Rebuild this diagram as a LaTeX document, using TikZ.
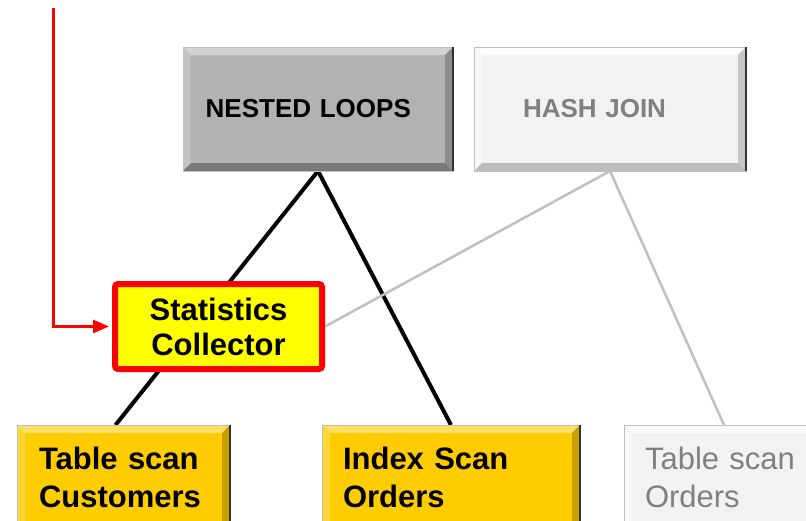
\documentclass[tikz,border=0pt]{standalone}
\usepackage{fontspec}
\setmainfont{Liberation Sans}
\usetikzlibrary{arrows.meta,calc,backgrounds}
\definecolor{nlfill}{HTML}{B2B2B2}
\definecolor{nltop}{HTML}{D2D2D2}
\definecolor{nlleft}{HTML}{C2C2C2}
\definecolor{nlright}{HTML}{8C8C8C}
\definecolor{nlbot}{HTML}{7A7A7A}
\definecolor{ltfill}{HTML}{F2F2F2}
\definecolor{lttop}{HTML}{FBFBFB}
\definecolor{ltleft}{HTML}{F7F7F7}
\definecolor{ltright}{HTML}{C6C6C6}
\definecolor{ltbot}{HTML}{BDBDBD}
\definecolor{gdfill}{HTML}{FFCC00}
\definecolor{gdtop}{HTML}{FFE066}
\definecolor{gdleft}{HTML}{FFD633}
\definecolor{gdright}{HTML}{C99F00}
\definecolor{gdbot}{HTML}{B08C00}
\definecolor{graytext}{HTML}{808080}
\definecolor{grayline}{HTML}{C0C0C0}
\definecolor{redc}{HTML}{FF0000}
\definecolor{yel}{HTML}{FFFF00}
\newcommand\mybevel[6]{%
  \fill[#2] (#1.north west) -- (#1.north east) -- ($(#1.north east)+(-#6,#6)$) -- ($(#1.north west)+(#6,#6)$) -- cycle;
  \fill[#3] (#1.north west) -- ($(#1.north west)+(#6,#6)$) -- ($(#1.south west)+(#6,-#6)$) -- (#1.south west) -- cycle;
  \fill[#4] (#1.north east) -- ($(#1.north east)+(-#6,#6)$) -- ($(#1.south east)+(-#6,-#6)$) -- (#1.south east) -- cycle;
  \fill[#5] (#1.south west) -- ($(#1.south west)+(#6,-#6)$) -- ($(#1.south east)+(-#6,-#6)$) -- (#1.south east) -- cycle;
  \draw[line width=0.8pt, black!25] (#1.north west) rectangle (#1.south east);
  \draw[line width=1.6pt, black!80] (#1.north east) -- (#1.south east);
}
\begin{document}
\begin{tikzpicture}[x=1pt,y=-1pt,
  box/.style={rectangle, outer sep=0pt, inner ysep=0pt, align=left},
  topbox/.style={box, minimum height=124pt, font=\bfseries\fontsize{26}{30}\selectfont},
  botbox/.style={box, minimum height=104pt, inner xsep=22pt, fill=gdfill, font=\bfseries\fontsize{31}{38}\selectfont},
  conn/.style={line width=4pt, black},
  grayconn/.style={line width=2.5pt, grayline}]
\useasboundingbox (0,0) rectangle (806,520);
\clip (0,0) rectangle (806,520);

\node[topbox, fill=nlfill, text width=224.6pt, inner xsep=22.7pt] (nl) at (318,109) {NESTED LOOPS};
\mybevel{nl}{nltop}{nlleft}{nlright}{nlbot}{8}
\node[topbox, fill=ltfill, text width=174pt, inner xsep=49pt, text=graytext] (hj) at (610,109) {HASH JOIN};
\mybevel{hj}{lttop}{ltleft}{ltright}{ltbot}{8}

\node[botbox, text width=169pt] (tsc) at (123.5,477) {Table scan\\Customers};
\mybevel{tsc}{gdtop}{gdleft}{gdright}{gdbot}{8}
\node[botbox, text width=216pt, inner xsep=21pt] (isc) at (451,477) {Index Scan\\Orders};
\mybevel{isc}{gdtop}{gdleft}{gdright}{gdbot}{8}
\node[botbox, fill=ltfill, text width=158pt, inner xsep=21pt, text=graytext, font=\fontsize{31}{38}\selectfont] (tso) at (724,477) {Table scan\\Orders};
\mybevel{tso}{lttop}{ltleft}{ltright}{ltbot}{8}

\node[rectangle, fill=yel, draw=redc, line width=6pt, rounded corners=3pt, minimum width=207pt, minimum height=85pt, inner sep=0pt, align=center, font=\bfseries\fontsize{31}{35}\selectfont] (sc) at (218.5,326.5) {Statistics\\Collector};

\begin{scope}[on background layer]
  \draw[conn] (nl.south) -- ([xshift=-8pt]tsc.north);
  \draw[conn] (nl.south) -- (isc.north);
  \draw[grayconn] (hj.south) -- (sc.east);
  \draw[grayconn] (hj.south) -- (tso.north);
\end{scope}

\coordinate (rs) at (53,8);
\draw[redc, line width=3pt, shorten >=3pt, -{Triangle[length=16pt,width=13pt]}] (rs) |- (sc.west);
\end{tikzpicture}
\end{document}
